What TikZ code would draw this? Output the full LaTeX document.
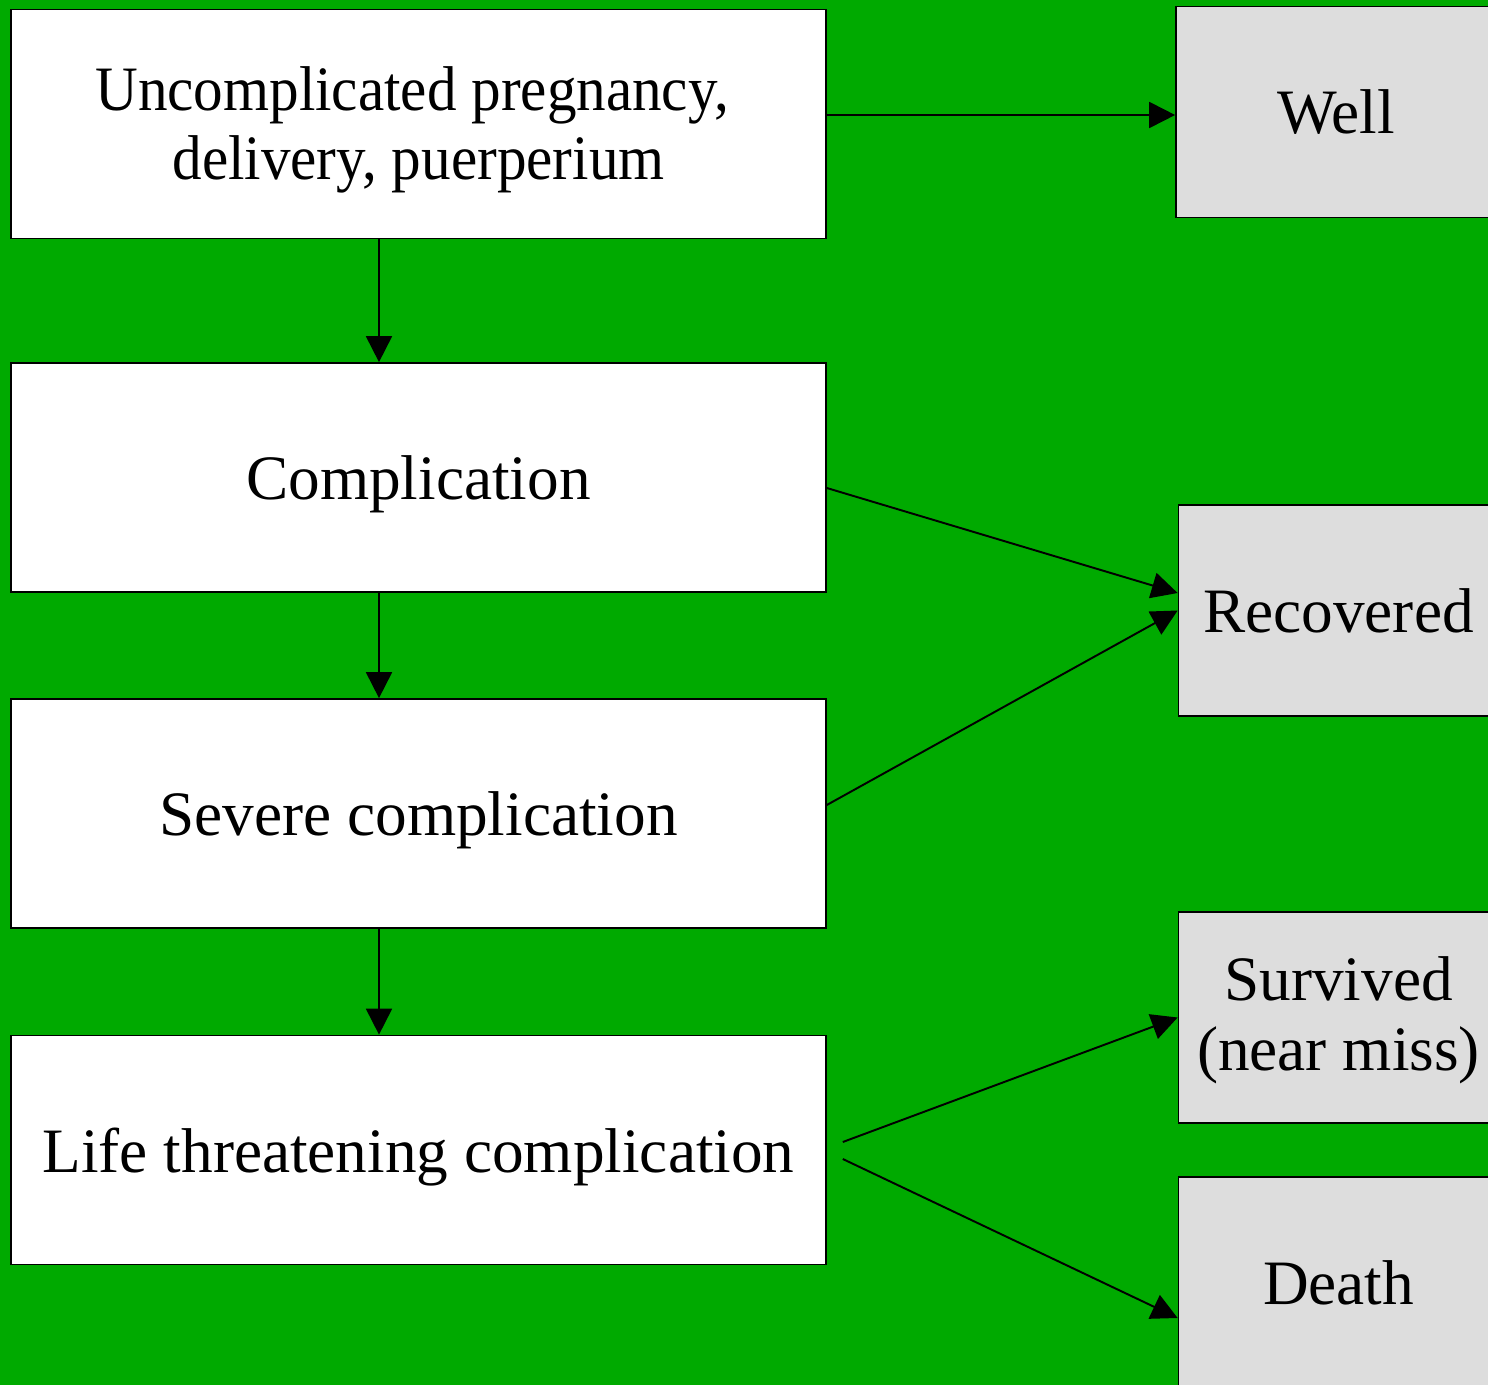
\documentclass[tikz,border=0pt]{standalone}
\usepackage{fontspec}
\setmainfont{Liberation Serif}
\usetikzlibrary{arrows.meta,calc}
\definecolor{bggreen}{RGB}{0,170,0}
\definecolor{boxgray}{RGB}{221,221,221}
\tikzset{
  lbox/.style={draw=black, fill=white, line width=1pt, minimum width=16.3cm, minimum height=4.58cm, inner sep=0pt},
  ltext/.style={inner sep=0pt, align=center, font=\fontsize{36}{39.7}\selectfont},
  rbox/.style={draw=black, fill=boxgray, line width=1pt, minimum width=6.4cm, minimum height=4.22cm, inner sep=0pt, align=center, font=\fontsize{36}{40.5}\selectfont},
  arr/.style={line width=1.1pt, -{Triangle[length=0.52cm,width=0.52cm]}}
}
\begin{document}
\begin{tikzpicture}[x=0.02cm,y=-0.02cm]
\useasboundingbox (0,0) rectangle (1488,1385);
\fill[bggreen] (0,0) rectangle (1488,1385);
\clip (0,0) rectangle (1488,1385);
\node[lbox] (b1) at (418.5,124) {};
\node[lbox] (b2) at (418.5,477.5) {};
\node[lbox] (b3) at (418.5,813.5) {};
\node[lbox] (b4) at (418.5,1150) {};
\node[ltext] (t1) at ($(b1.center)+(0,6)$) {\scalebox{0.935}[1]{Uncomplicated pregnancy,}\hspace*{0.26cm}\\\scalebox{0.935}[1]{delivery, puerperium}};
\node[ltext] (t2) at ($(b2.center)+(0,7)$) {Complication};
\node[ltext] (t3) at ($(b3.center)+(0,7)$) {Severe complication};
\node[ltext] (t4) at ($(b4.center)+(0,7)$) {Life threatening complication};
\node[rbox] (well) at (1336,112) {Well};
\node[rbox] (rec) at (1338.5,610.5) {Recovered};
\node[rbox] (surv) at (1338.5,1017.5) {};
\node[ltext] (survt) at ($(surv.center)+(0,3)$) {Survived\\(near miss)};
\node[rbox] (death) at (1338.5,1282.5) {Death};
\coordinate (vx) at (379,0);
\draw[arr] (b1.east |- 0,115) -- (well.west |- 0,115);
\draw[arr] (vx |- b1.south) -- (vx |- b2.north);
\draw[arr] (vx |- b2.south) -- (vx |- b3.north);
\draw[arr] (vx |- b3.south) -- (vx |- b4.north);
\draw[arr] ($(b2.east)+(0,10.5)$) -- ($(rec.west)+(0,-17.5)$);
\draw[arr] ($(b3.east)+(0,-8.5)$) -- (rec.west);
\draw[arr] ($(b4.east)+(16,-8)$) -- (surv.west);
\draw[arr] ($(b4.east)+(16,9)$) -- ($(death.west)+(0,35.5)$);
\end{tikzpicture}
\end{document}
